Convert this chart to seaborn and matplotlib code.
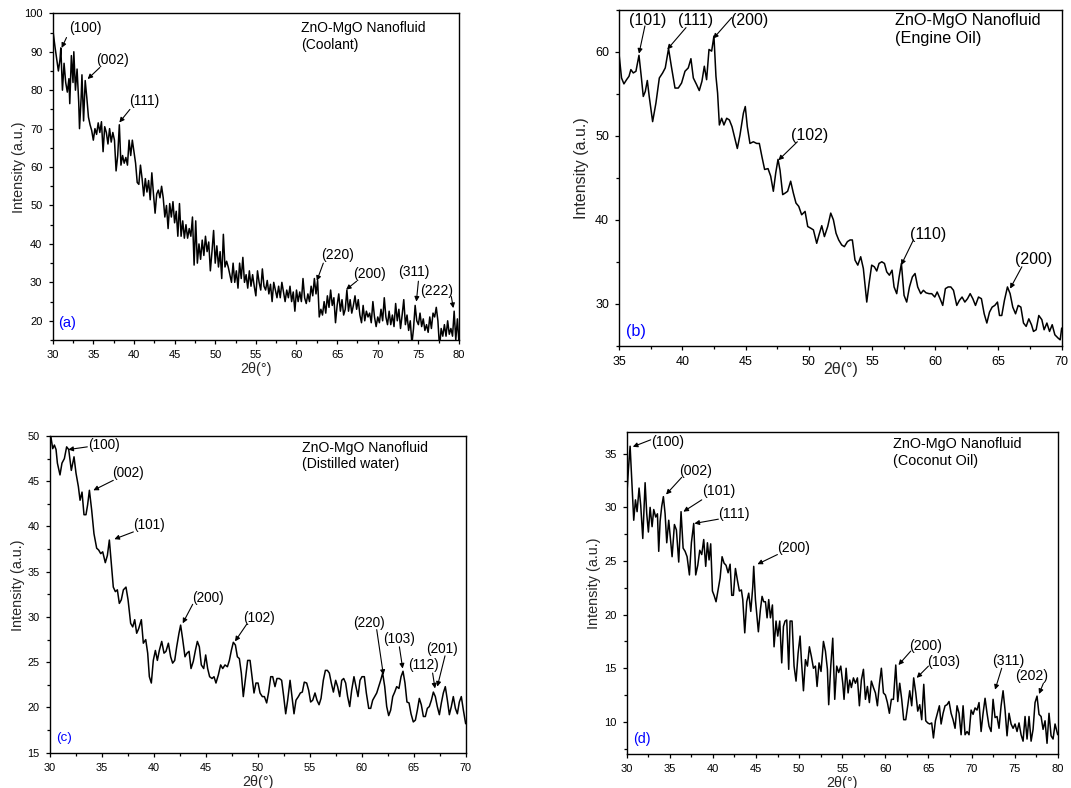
import matplotlib
matplotlib.use("Agg")
import matplotlib.pyplot as plt
import seaborn as sns
import pandas as pd
from matplotlib.ticker import MultipleLocator

sns.set_style("ticks")
plt.rcParams["font.family"] = ["Liberation Sans", "DejaVu Sans"]

# ---------------- data ----------------
# (a) Coolant
A_2THETA = [30.0, 30.3, 30.5, 30.7, 30.9, 31.0, 31.2, 31.4, 31.6, 31.8,
            32.0, 32.1, 32.3, 32.5, 32.6, 32.8, 33.0, 33.2, 33.3, 33.5,
            33.6, 33.8, 34.0,
            34.2, 34.4, 34.6, 34.8, 35.0, 35.2, 35.4, 35.6, 35.8, 36.0,
            36.2, 36.4, 36.6, 36.8, 37.0, 37.2, 37.4, 37.6, 37.8, 38.0,
            38.2, 38.4, 38.6, 38.8, 39.0, 39.2, 39.4, 39.6, 39.8, 40.0,
            40.2, 40.4, 40.6, 40.8, 41.0, 41.2, 41.4, 41.6, 41.8, 42.0,
            42.2, 42.4, 42.6, 42.8, 43.0, 43.2, 43.4, 43.6, 43.8, 44.0,
            44.2, 44.4, 44.6, 44.8, 45.0, 45.2, 45.4, 45.6, 45.8, 46.0,
            46.2, 46.4, 46.6, 46.8, 47.0, 47.2, 47.4, 47.6, 47.8, 48.0,
            48.2, 48.4, 48.6, 48.8, 49.0, 49.2, 49.4, 49.6, 49.8, 50.0,
            50.2, 50.4, 50.6, 50.8, 51.0, 51.2, 51.4, 51.6, 51.8, 52.0,
            52.2, 52.4, 52.6, 52.8, 53.0, 53.2, 53.4, 53.6, 53.8, 54.0,
            54.2, 54.4, 54.6, 54.8, 55.0, 55.2, 55.4, 55.6, 55.8, 56.0,
            56.2, 56.4, 56.6, 56.8, 57.0, 57.2, 57.4, 57.6, 57.8, 58.0,
            58.2, 58.4, 58.6, 58.8, 59.0, 59.2, 59.4, 59.6, 59.8, 60.0,
            60.2, 60.4, 60.6, 60.8, 61.0, 61.2, 61.4, 61.6, 61.8, 62.0,
            62.2, 62.4, 62.6, 62.8, 63.0, 63.2, 63.4, 63.6, 63.8, 64.0,
            64.2, 64.4, 64.6, 64.8, 65.0, 65.2, 65.4, 65.6, 65.8, 66.0,
            66.2, 66.4, 66.6, 66.8, 67.0, 67.2, 67.4, 67.6, 67.8, 68.0,
            68.2, 68.4, 68.6, 68.8, 69.0, 69.2, 69.4, 69.6, 69.8, 70.0,
            70.2, 70.4, 70.6, 70.8, 71.0, 71.2, 71.4, 71.6, 71.8, 72.0,
            72.2, 72.4, 72.6, 72.8, 73.0, 73.2, 73.4, 73.6, 73.8, 74.0,
            74.2, 74.4, 74.6, 74.8, 75.0, 75.2, 75.4, 75.6, 75.8, 76.0,
            76.2, 76.4, 76.6, 76.8, 77.0, 77.2, 77.4, 77.6, 77.8, 78.0,
            78.2, 78.4, 78.6, 78.8, 79.0, 79.2, 79.4, 79.6, 79.8, 80.0]
A_INT = [96, 91, 88, 85, 88, 91, 80, 87, 82, 79.5,
         83, 76.5, 89, 82, 90, 80, 85.5, 77, 70, 78,
         84, 72, 82.5,
         78, 73, 71, 69.5, 67, 70, 68.5, 71.5, 69, 71.8,
         64, 70.5, 69, 66, 70, 66.5, 69, 67, 59, 63,
         71, 60.5, 63, 61, 62.5, 60.5, 67, 63, 67, 64,
         61, 56, 55.5, 60.5, 57, 52.5, 57, 53.5, 56.5, 51.5,
         58.5, 53, 48, 53, 54, 52, 55, 52, 47, 50,
         44, 50.5, 47, 51, 45.5, 48.5, 42, 50.5, 42, 46,
         41.5, 45, 41.5, 44, 42, 47, 34.5, 46, 35, 40,
         36, 41, 37, 42, 38, 40.5, 33, 38, 43.5, 35,
         39.5, 34, 38, 31, 42.5, 34, 35.5, 34, 32, 30,
         35, 30, 33, 28.5, 35, 31, 36.5, 30, 32, 28.5,
         33, 29, 32, 29, 26.5, 33, 30, 28, 33.5, 29,
         28, 30.5, 27, 29.5, 25, 30, 28, 26, 29, 26,
         30, 27.5, 25, 28, 26, 29, 25, 27.5, 22.5, 28,
         25, 27.5, 25, 31, 26, 24.5, 27, 25, 29, 26.5,
         31, 27, 30.5, 21, 23, 21.5, 25, 22, 26.5, 23.5,
         28, 24, 26, 19.5, 24, 27, 22.5, 25.5, 21.5, 23,
         28, 22.5, 25.5, 22, 24, 26.5, 23, 25.5, 21.5, 19.5,
         24, 20, 22.5, 21, 22, 19.5, 25, 21, 18.5, 21,
         19.5, 23, 20, 26, 21, 19, 22.5, 19, 21.5, 18.5,
         24.5, 20, 23, 18, 21.5, 25.5, 19, 21.5, 17.5, 20,
         14, 18, 24, 20, 19, 22, 18.5, 20.5, 17.5, 19,
         17, 21, 18, 22, 21, 23.5, 20, 13, 18, 16,
         19, 16, 20, 16.5, 18, 16, 22.5, 15, 20.5, 14]

# (b) Engine Oil
B_2THETA = [35.00, 35.18, 35.37, 35.58, 35.77, 35.92, 36.11, 36.32, 36.56, 36.74,
            36.90, 37.06, 37.22, 37.37, 37.64, 37.90, 38.17, 38.43, 38.64, 38.90,
            39.12, 39.41, 39.67, 39.93, 40.20, 40.46, 40.67, 40.86, 41.12, 41.33,
            41.54, 41.73, 41.91, 42.10, 42.31, 42.49, 42.65, 42.78, 42.92, 43.10,
            43.28, 43.50, 43.71, 43.92, 44.08, 44.34, 44.55, 44.82, 44.97, 45.13,
            45.34, 45.61, 45.87, 46.08, 46.29, 46.50, 46.77, 46.98, 47.19, 47.38,
            47.56, 47.72, 47.93, 48.14, 48.32, 48.56, 48.77, 48.98, 49.20, 49.43,
            49.70, 49.91, 50.15, 50.36, 50.62, 50.80, 51.02, 51.23, 51.49, 51.73,
            51.94, 52.15, 52.36, 52.60, 52.81, 53.05, 53.26, 53.44, 53.65, 53.87,
            54.10, 54.31, 54.58, 54.76, 54.97, 55.18, 55.37, 55.55, 55.77, 55.98,
            56.16, 56.37, 56.58, 56.74, 56.95, 57.14, 57.32, 57.53, 57.74, 57.96,
            58.19, 58.40, 58.61, 58.85, 59.06, 59.27, 59.51, 59.72, 59.96, 60.15,
            60.38, 60.59, 60.80, 61.02, 61.23, 61.44, 61.70, 61.91, 62.12, 62.34,
            62.55, 62.76, 62.97, 63.18, 63.42, 63.65, 63.87, 64.08, 64.29, 64.50,
            64.71, 64.92, 65.08, 65.26, 65.47, 65.71, 65.92, 66.13, 66.35, 66.56,
            66.77, 66.98, 67.19, 67.40, 67.61, 67.77, 67.98, 68.19, 68.43, 68.61,
            68.83, 69.04, 69.25, 69.46, 69.72, 69.88, 70.00]
B_INT = [59.5, 56.9, 56.2, 56.7, 57.1, 57.9, 57.5, 57.7, 59.6, 57.1,
         54.7, 55.3, 56.6, 54.7, 51.7, 53.9, 56.9, 57.5, 58.1, 60.4,
         58.3, 55.7, 55.7, 56.3, 57.7, 58.1, 59.2, 56.9, 56.1, 55.4,
         56.5, 58.3, 56.7, 60.3, 60.1, 61.9, 57.1, 55.1, 51.3, 52.1,
         51.3, 52.1, 51.9, 51.1, 50.1, 48.5, 50.1, 52.7, 53.5, 51.1,
         49.1, 49.3, 49.1, 49.1, 47.5, 46.0, 46.1, 45.2, 43.4, 45.6,
         47.2, 45.9, 43.0, 43.2, 43.4, 44.6, 43.2, 42.0, 41.6, 40.6,
         41.0, 39.2, 39.0, 38.8, 37.2, 38.2, 39.3, 38.0, 39.2, 40.8,
         40.0, 38.4, 37.6, 37.0, 36.8, 37.4, 37.6, 37.6, 35.2, 34.6,
         35.6, 34.2, 30.2, 32.4, 34.6, 34.4, 33.9, 34.8, 35.0, 34.8,
         33.8, 33.4, 34.0, 32.0, 31.2, 33.2, 34.8, 31.0, 30.2, 32.0,
         33.2, 33.6, 32.0, 31.2, 31.6, 31.3, 31.2, 31.2, 30.8, 31.4,
         30.6, 29.8, 31.8, 32.0, 32.0, 31.6, 29.8, 30.4, 30.8, 30.2,
         30.6, 31.2, 30.6, 29.8, 30.8, 30.6, 28.8, 27.7, 29.0, 29.6,
         29.8, 30.2, 28.6, 28.6, 30.4, 32.0, 31.2, 29.6, 28.8, 29.8,
         29.6, 27.7, 27.3, 28.2, 27.5, 26.7, 26.9, 28.6, 28.1, 26.9,
         27.7, 26.7, 27.5, 26.3, 25.9, 25.7, 27.1]

# (c) Distilled water
C_2THETA = [30.06, 30.26, 30.42, 30.58, 30.71, 30.96, 31.15, 31.38, 31.60, 31.80,
            32.05, 32.31, 32.50, 32.73, 32.89, 33.08, 33.27, 33.46, 33.62, 33.79,
            34.01, 34.23, 34.49, 34.68, 34.88, 35.07, 35.32, 35.52, 35.71, 35.90,
            36.09, 36.29, 36.48, 36.67, 36.86, 37.06, 37.31, 37.51, 37.76, 37.96,
            38.15, 38.34, 38.53, 38.79, 38.98, 39.21, 39.40, 39.56, 39.75, 39.94,
            40.14, 40.33, 40.52, 40.75, 40.97, 41.16, 41.39, 41.61, 41.80, 42.00,
            42.19, 42.41, 42.57, 42.77, 42.99, 43.18, 43.38, 43.57, 43.79, 43.99,
            44.18, 44.37, 44.56, 44.79, 44.98, 45.17, 45.36, 45.59, 45.78, 45.97,
            46.20, 46.42, 46.62, 46.84, 47.07, 47.26, 47.45, 47.64, 47.84, 48.03,
            48.22, 48.41, 48.60, 48.83, 49.02, 49.25, 49.44, 49.63, 49.82, 50.02,
            50.21, 50.43, 50.63, 50.85, 51.04, 51.24, 51.43, 51.65, 51.84, 52.07,
            52.29, 52.49, 52.68, 52.87, 53.10, 53.29, 53.48, 53.67, 53.90, 54.09,
            54.28, 54.47, 54.70, 54.89, 55.08, 55.28, 55.50, 55.69, 55.89, 56.08,
            56.30, 56.50, 56.69, 56.88, 57.07, 57.27, 57.49, 57.68, 57.88, 58.07,
            58.26, 58.45, 58.64, 58.84, 59.03, 59.25, 59.45, 59.64, 59.83, 60.02,
            60.25, 60.44, 60.67, 60.86, 61.05, 61.24, 61.44, 61.63, 61.82, 62.01,
            62.21, 62.40, 62.59, 62.78, 62.98, 63.17, 63.36, 63.58, 63.78, 63.97,
            64.16, 64.35, 64.55, 64.74, 64.96, 65.16, 65.35, 65.54, 65.73, 65.93,
            66.12, 66.31, 66.50, 66.70, 66.89, 67.08, 67.27, 67.47, 67.66, 67.85,
            68.04, 68.24, 68.43, 68.62, 68.81, 69.01, 69.20, 69.39, 69.58, 69.78,
            70.00]
C_INT = [50.1, 48.6, 49.0, 48.5, 47.0, 45.7, 47.0, 47.5, 48.8, 48.5,
         46.2, 47.7, 45.9, 44.4, 42.9, 43.8, 41.3, 41.3, 42.4, 44.0,
         41.8, 39.2, 37.6, 37.4, 37.0, 37.2, 36.0, 36.8, 38.5, 35.9,
         33.3, 32.8, 33.0, 31.5, 31.9, 33.0, 33.3, 31.9, 29.3, 28.9,
         29.7, 28.2, 28.7, 29.7, 27.1, 27.5, 26.0, 23.4, 22.7, 25.2,
         26.3, 25.2, 26.3, 27.3, 26.0, 26.2, 27.1, 25.6, 24.9, 25.2,
         26.7, 28.2, 29.1, 27.5, 25.6, 26.0, 26.2, 24.3, 25.1, 26.3,
         27.3, 26.7, 24.7, 24.3, 25.8, 24.3, 23.4, 23.2, 23.4, 22.7,
         23.6, 24.7, 24.3, 24.7, 24.5, 25.2, 26.3, 27.2, 26.9, 25.6,
         25.4, 23.8, 21.2, 23.4, 25.2, 25.2, 23.4, 21.6, 22.7, 22.7,
         21.6, 21.2, 21.2, 20.5, 21.7, 23.4, 23.4, 22.3, 23.2, 23.2,
         23.0, 21.2, 19.3, 20.8, 23.0, 21.2, 19.3, 20.8, 21.2, 21.6,
         21.7, 22.8, 22.7, 21.9, 20.6, 20.8, 21.6, 20.8, 20.3, 21.0,
         23.0, 24.1, 24.1, 23.8, 22.7, 21.7, 23.0, 22.3, 21.2, 23.0,
         23.2, 22.7, 21.2, 20.1, 21.9, 23.4, 22.3, 21.2, 23.0, 23.4,
         23.4, 21.6, 19.9, 19.9, 20.8, 21.2, 21.6, 22.3, 23.0, 23.8,
         22.3, 20.1, 19.1, 19.7, 21.2, 21.7, 22.3, 22.1, 23.4, 24.0,
         22.7, 20.6, 20.5, 19.3, 18.4, 18.6, 19.7, 21.0, 20.3, 19.0,
         19.0, 19.9, 20.1, 20.8, 21.7, 21.2, 20.1, 19.2, 20.5, 21.6,
         22.3, 20.8, 19.2, 20.1, 21.2, 19.9, 19.3, 20.6, 21.2, 19.7,
         18.2]

# (d) Coconut Oil
D_2THETA = [30.00, 30.19, 30.39, 30.58, 30.81, 31.01, 31.20, 31.43, 31.62, 31.86,
            32.13, 32.32, 32.51, 32.71, 32.94, 33.13, 33.36, 33.56, 33.71, 33.87,
            34.06, 34.25, 34.45, 34.64, 34.87, 35.07, 35.26, 35.53, 35.76, 36.03,
            36.30, 36.54, 36.77, 37.00, 37.27, 37.50, 37.77, 38.00, 38.24, 38.47,
            38.70, 38.93, 39.16, 39.36, 39.55, 39.74, 39.94, 40.13, 40.36, 40.60,
            40.83, 41.06, 41.29, 41.52, 41.76, 41.99, 42.18, 42.37, 42.61, 42.84,
            43.07, 43.30, 43.46, 43.69, 43.92, 44.15, 44.39, 44.62, 44.73, 44.93,
            45.27, 45.51, 45.70, 45.89, 46.09, 46.28, 46.47, 46.67, 46.90, 47.09,
            47.32, 47.52, 47.75, 47.98, 48.18, 48.37, 48.56, 48.79, 48.95, 49.18,
            49.41, 49.64, 49.88, 50.11, 50.26, 50.50, 50.73, 50.96, 51.19, 51.42,
            51.66, 51.89, 52.08, 52.31, 52.54, 52.82, 53.05, 53.28, 53.43, 53.67,
            53.90, 54.13, 54.36, 54.59, 54.83, 55.06, 55.21, 55.45, 55.68, 55.87,
            56.06, 56.30, 56.53, 56.76, 56.99, 57.22, 57.46, 57.69, 57.92, 58.15,
            58.38, 58.62, 58.85, 59.08, 59.31, 59.54, 59.78, 60.01, 60.24, 60.47,
            60.70, 60.94, 61.21, 61.44, 61.67, 61.90, 62.13, 62.37, 62.60, 62.83,
            63.06, 63.29, 63.53, 63.76, 63.99, 64.22, 64.46, 64.69, 64.92, 65.15,
            65.38, 65.58, 65.81, 66.04, 66.27, 66.47, 66.70, 66.93, 67.16, 67.39,
            67.63, 67.86, 68.09, 68.32, 68.55, 68.79, 69.02, 69.25, 69.48, 69.71,
            69.95, 70.18, 70.41, 70.64, 70.87, 71.11, 71.34, 71.57, 71.80, 72.03,
            72.27, 72.50, 72.73, 72.96, 73.19, 73.43, 73.66, 73.89, 74.12, 74.35,
            74.59, 74.82, 75.05, 75.28, 75.51, 75.75, 75.98, 76.21, 76.44, 76.67,
            76.91, 77.14, 77.37, 77.60, 77.83, 78.07, 78.30, 78.53, 78.76, 78.99,
            79.23, 79.46, 79.69, 80.00]
D_INT = [31.0, 33.5, 35.7, 32.5, 28.8, 30.7, 29.6, 31.8, 30.2, 27.1,
         32.3, 29.4, 27.7, 30.0, 28.2, 29.8, 29.1, 29.4, 25.9, 28.7,
         30.1, 31.0, 29.4, 26.7, 28.8, 27.1, 25.4, 28.4, 27.9, 24.9,
         29.6, 26.2, 25.9, 25.4, 23.7, 26.7, 28.5, 23.7, 24.6, 26.0,
         25.6, 27.0, 24.5, 26.7, 25.1, 26.6, 22.2, 21.8, 21.2, 22.3,
         23.4, 25.4, 24.8, 24.6, 23.9, 24.7, 21.8, 21.8, 24.3, 23.2,
         22.2, 22.3, 21.4, 18.3, 21.2, 22.0, 20.3, 22.6, 24.5, 21.4,
         18.4, 20.5, 21.7, 21.2, 21.2, 19.7, 21.4, 19.7, 20.9, 17.0,
         19.4, 18.0, 19.4, 15.5, 18.9, 19.4, 19.5, 14.9, 19.4, 19.4,
         15.2, 13.8, 16.4, 18.0, 15.8, 12.9, 15.8, 15.2, 17.0, 16.1,
         15.0, 15.2, 13.3, 15.5, 14.7, 17.5, 16.6, 14.9, 11.6, 15.2,
         17.8, 12.1, 15.2, 14.6, 15.2, 13.6, 12.1, 15.0, 12.7, 13.9,
         13.2, 14.1, 13.6, 14.1, 11.5, 13.9, 14.9, 12.1, 13.3, 11.8,
         13.8, 13.2, 12.7, 11.5, 13.5, 15.0, 12.7, 12.5, 11.8, 10.8,
         12.1, 12.1, 15.3, 11.9, 13.6, 12.1, 10.2, 10.2, 11.5, 12.9,
         11.5, 14.1, 12.7, 11.0, 11.6, 10.2, 13.5, 10.1, 9.9, 9.8,
         9.9, 8.5, 10.1, 10.8, 11.5, 9.8, 10.8, 11.5, 11.6, 11.9,
         10.8, 10.2, 9.4, 11.5, 10.8, 8.8, 11.5, 8.8, 9.1, 8.8,
         11.1, 10.7, 11.3, 11.1, 11.8, 9.1, 10.8, 12.2, 10.8, 9.6,
         9.1, 12.1, 10.4, 10.5, 9.4, 11.5, 12.9, 11.1, 8.7, 10.8,
         9.8, 9.4, 9.8, 9.1, 9.9, 8.8, 8.2, 10.5, 8.4, 10.5,
         8.2, 9.3, 11.8, 12.4, 10.7, 10.5, 9.3, 10.1, 8.0, 10.8,
         8.7, 8.4, 9.8, 8.8]

TITLES = ["ZnO-MgO Nanofluid\n(Coolant)", "ZnO-MgO Nanofluid\n(Engine Oil)",
          "ZnO-MgO Nanofluid\n(Distilled water)", "ZnO-MgO Nanofluid\n(Coconut Oil)"]
LETTERS = ["(a)", "(b)", "(c)", "(d)"]

# peak labels: (label, text left x, text centre y, arrow tail, arrow head)
PEAKS_A = [("(100)", 32.0, 96.3, (31.7, 93.7), (31.1, 91.0)),
           ("(002)", 35.4, 87.8, (35.8, 85.9), (34.3, 82.9)),
           ("(111)", 39.4, 77.2, (39.5, 75.0), (38.2, 71.6)),
           ("(220)", 63.0, 37.0, (63.3, 35.0), (62.5, 30.4)),
           ("(200)", 67.0, 32.2, (67.4, 30.3), (66.1, 28.1)),
           ("(311)", 72.5, 32.6, (75.0, 30.3), (74.75, 25.0)),
           ("(222)", 75.2, 27.7, (79.05, 26.3), (79.3, 23.3))]
PEAKS_B = [("(101)", 35.79, 63.8, (37.03, 63.1), (36.56, 59.8)),
           ("(111)", 39.67, 63.8, (40.28, 62.9), (38.8, 60.3)),
           ("(200)", 43.81, 63.8, (43.9, 64.1), (42.44, 61.6)),
           ("(102)", 48.59, 50.1, (49.09, 49.3), (47.59, 47.1)),
           ("(110)", 58.0, 38.3, (58.27, 37.6), (57.3, 34.6)),
           ("(200)", 66.32, 35.3, (66.85, 34.4), (65.92, 31.8))]
PEAKS_C = [("(100)", 33.62, 49.0, (33.59, 48.8), (31.76, 48.5)),
           ("(002)", 36.0, 45.9, (36.09, 45.1), (34.17, 44.0)),
           ("(101)", 37.96, 40.2, (38.02, 39.4), (36.19, 38.6)),
           ("(200)", 43.63, 32.1, (43.73, 31.4), (42.77, 29.3)),
           ("(102)", 48.6, 29.9, (48.93, 29.2), (47.8, 27.3)),
           ("(220)", 59.13, 29.3, (61.44, 28.6), (62.08, 23.6)),
           ("(103)", 62.08, 27.6, (63.62, 26.7), (63.94, 24.3)),
           ("(112)", 64.48, 24.7, (66.82, 23.8), (67.05, 22.1)),
           ("(201)", 66.15, 26.5, (68.01, 25.7), (67.27, 22.3))]
PEAKS_D = [("(100)", 32.82, 36.1, (32.78, 36.3), (30.70, 35.65)),
           ("(002)", 36.11, 33.4, (36.38, 32.8), (34.56, 31.2)),
           ("(101)", 38.78, 31.5, (38.70, 30.7), (36.57, 29.6)),
           ("(111)", 40.63, 29.4, (40.63, 28.9), (37.85, 28.5)),
           ("(200)", 47.40, 26.2, (47.48, 25.6), (45.16, 24.7)),
           ("(200)", 62.75, 17.1, (62.95, 16.6), (61.52, 15.3)),
           ("(103)", 64.80, 15.6, (65.0, 15.2), (63.64, 14.1)),
           ("(311)", 72.34, 15.7, (73.5, 15.0), (72.73, 13.0)),
           ("(202)", 75.05, 14.3, (78.34, 13.6), (77.83, 12.6))]

# ---------------- layout ----------------
PANELS = [
    dict(x=A_2THETA, y=A_INT, peaks=PEAKS_A, rect=[0.0492, 0.5685, 0.3794, 0.4146],
         xlim=(30, 80), ylim=(15, 100), xmaj=5, ymaj=10, tick_fs=8, lab_fs=10.4,
         ann_fs=10, title_fs=10, title_xy=(60.6, 94.0), letter_xy=(30.7, 19.4),
         letter_fs=10.5, xlab_off=0.089, ylab_off=0.083),
    dict(x=B_2THETA, y=B_INT, peaks=PEAKS_B, rect=[0.5782, 0.5613, 0.4131, 0.4260],
         xlim=(35, 70), ylim=(25, 65), xmaj=5, ymaj=10, tick_fs=9, lab_fs=11.5,
         ann_fs=11.5, title_fs=11.7, title_xy=(56.82, 62.65), letter_xy=(35.5, 26.66),
         letter_fs=11.6, xlab_off=0.0715, ylab_off=0.085),
    dict(x=C_2THETA, y=C_INT, peaks=PEAKS_C, rect=[0.0467, 0.0448, 0.3881, 0.4019],
         xlim=(30, 70), ylim=(15, 50), xmaj=5, ymaj=5, tick_fs=7.8, lab_fs=10.4,
         ann_fs=9.8, title_fs=10.1, title_xy=(54.22, 47.8), letter_xy=(30.58, 16.6),
         letter_fs=9.6, xlab_off=0.0916, ylab_off=0.078),
    dict(x=D_2THETA, y=D_INT, peaks=PEAKS_D, rect=[0.5852, 0.0431, 0.4024, 0.4083],
         xlim=(30, 80), ylim=(7, 37), xmaj=5, ymaj=5, tick_fs=8, lab_fs=10.4,
         ann_fs=10.2, title_fs=10.4, title_xy=(60.94, 35.1), letter_xy=(30.7, 8.4),
         letter_fs=10.2, xlab_off=0.0892, ylab_off=0.0766),
]

fig = plt.figure(figsize=(10.71, 7.88), dpi=100)
fig.patch.set_facecolor("white")

for i, p in enumerate(PANELS):
    ax = fig.add_axes(p["rect"])
    df = pd.DataFrame({"two_theta": p["x"], "intensity": p["y"]})
    sns.lineplot(data=df, x="two_theta", y="intensity", ax=ax, color="black",
                 linewidth=1.1, estimator=None, sort=False)
    ax.set_xlim(*p["xlim"])
    ax.set_ylim(*p["ylim"])
    ax.xaxis.set_major_locator(MultipleLocator(p["xmaj"]))
    ax.xaxis.set_minor_locator(MultipleLocator(p["xmaj"] / 2))
    ax.yaxis.set_major_locator(MultipleLocator(p["ymaj"]))
    ax.yaxis.set_minor_locator(MultipleLocator(p["ymaj"] / 2))
    ax.tick_params(which="both", direction="out", top=False, right=False,
                   colors="black", width=0.9, labelsize=p["tick_fs"], pad=4.2)
    ax.tick_params(which="major", length=3.2)
    ax.tick_params(which="minor", length=2)
    for s in ax.spines.values():
        s.set_visible(True)
        s.set_color("black")
        s.set_linewidth(1.0)
    ax.grid(False)

    ax.set_xlabel("2θ(°)", fontsize=p["lab_fs"])
    ax.set_ylabel("Intensity (a.u.)", fontsize=p["lab_fs"])
    ax.xaxis.label.set_va("center")
    ax.yaxis.label.set_va("center")
    ax.xaxis.set_label_coords(0.5, -p["xlab_off"])
    ax.yaxis.set_label_coords(-p["ylab_off"], 0.53)

    ax.text(p["title_xy"][0], p["title_xy"][1], TITLES[i], ha="left", va="center",
            fontsize=p["title_fs"], color="black", linespacing=1.25)
    ax.text(p["letter_xy"][0], p["letter_xy"][1], LETTERS[i], ha="left", va="center",
            fontsize=p["letter_fs"], color="#0000ff")

    for lab, tx, ty, tail, head in p["peaks"]:
        ax.text(tx, ty, lab, ha="left", va="center", fontsize=p["ann_fs"], color="black")
        ax.annotate("", xy=head, xytext=tail,
                    arrowprops=dict(arrowstyle="-|>", color="black", lw=0.8,
                                    mutation_scale=7, shrinkA=0, shrinkB=0))

fig.savefig("out.png", dpi=100, facecolor="white")
